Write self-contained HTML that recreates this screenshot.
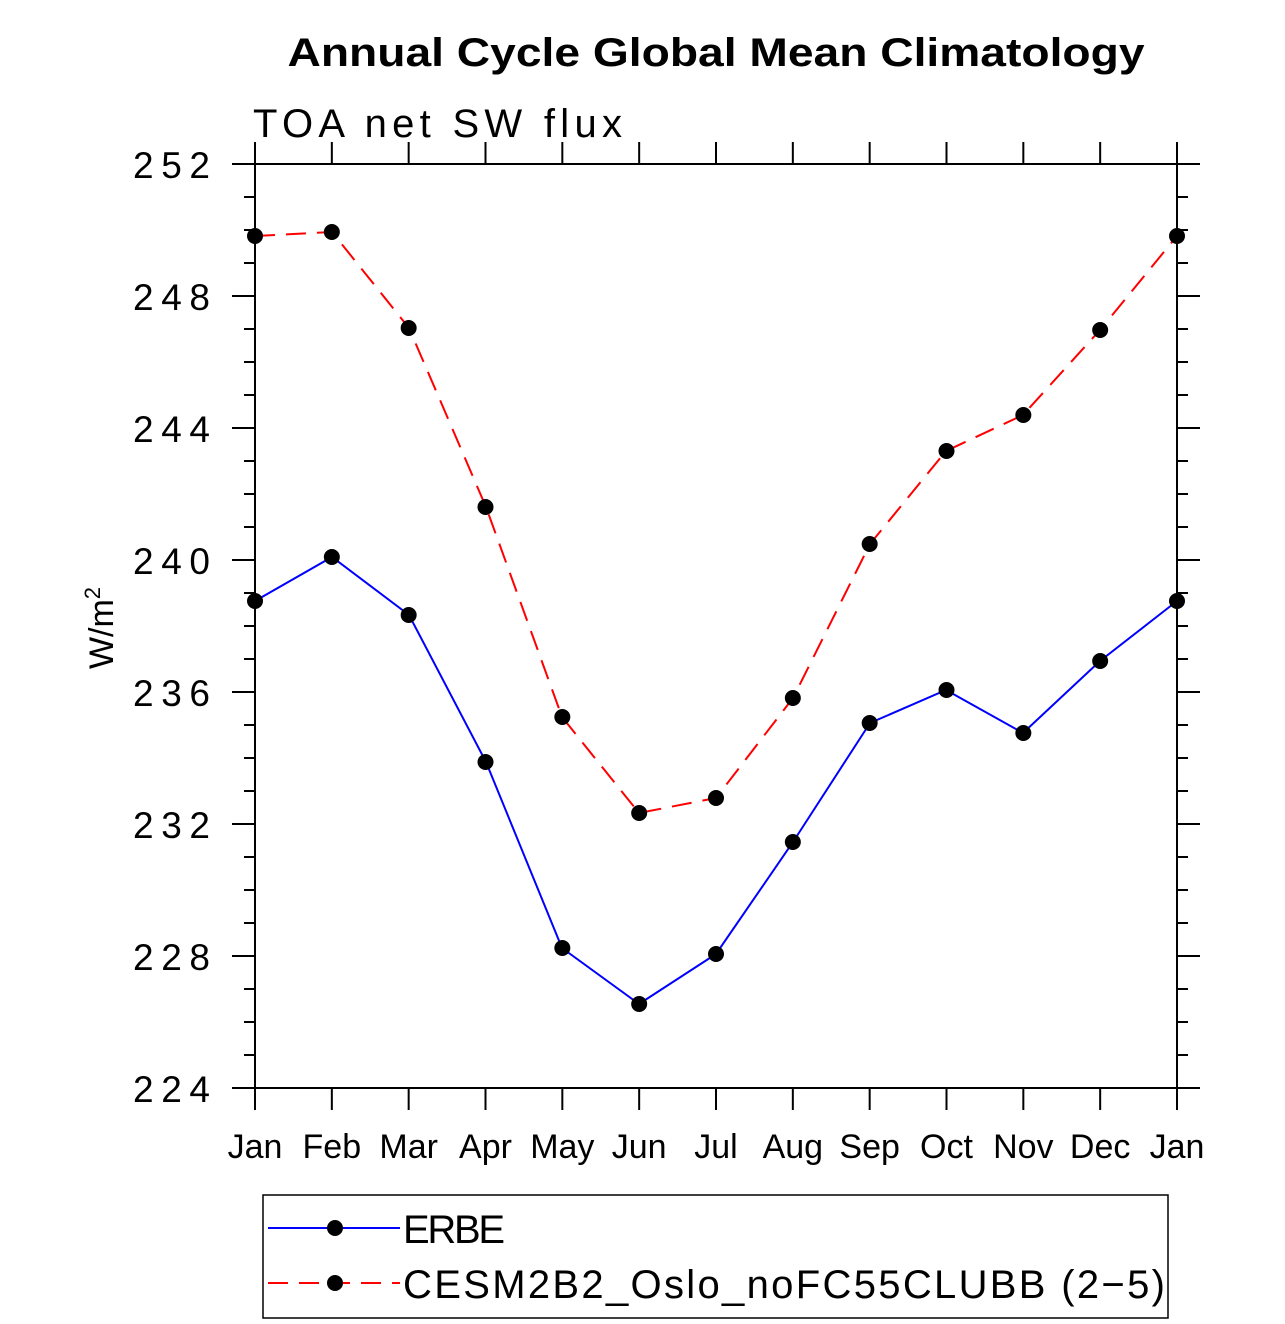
<!DOCTYPE html>
<html><head><style>body{margin:0;background:#fff}svg{display:block}text{font-family:"Liberation Sans",sans-serif;fill:#000}</style></head>
<body>
<svg width="1285" height="1324" viewBox="0 0 1285 1324" xmlns="http://www.w3.org/2000/svg">
<text x="716" y="66" text-anchor="middle" font-size="40" font-weight="bold" textLength="857" lengthAdjust="spacingAndGlyphs">Annual Cycle Global Mean Climatology</text>
<text x="253" y="137" font-size="40" font-weight="300" textLength="369" lengthAdjust="spacing">TOA net SW flux</text>
<g stroke="#000" stroke-width="2" fill="none">
<line x1="232" y1="164" x2="1200" y2="164"/>
<line x1="232" y1="1088" x2="1200" y2="1088"/>
<line x1="255" y1="142" x2="255" y2="1110"/>
<line x1="1177" y1="142" x2="1177" y2="1110"/>
</g>
<g stroke="#000" stroke-width="2" id="ticks"></g>
<g font-size="37" id="ylab"></g>
<g font-size="34" text-anchor="middle" id="xlab"></g>
<text transform="translate(113,628) rotate(-90)" font-size="34" text-anchor="middle">W/m<tspan font-size="22" dy="-13">2</tspan></text>
<polyline fill="none" stroke="#00f" stroke-width="2" points="255,601 332,557 409,615 486,762 562,948 639,1004 716,954 793,842 870,723 946,690 1023,733 1100,661 1177,601"/>
<polyline fill="none" stroke="#f00" stroke-width="2" stroke-dasharray="20,11" points="255,236 332,232 409,328 486,507 562,717 639,813 716,798 793,698 870,544 946,451 1023,415 1100,330 1177,236"/>
<g id="dots" fill="#000"></g>
<rect x="263" y="1195" width="905" height="123" fill="none" stroke="#000" stroke-width="1.5"/>
<line x1="268" y1="1228" x2="400" y2="1228" stroke="#00f" stroke-width="2"/>
<circle cx="335" cy="1228" r="8"/>
<line x1="268" y1="1283" x2="400" y2="1283" stroke="#f00" stroke-width="2" stroke-dasharray="20,11"/>
<circle cx="335" cy="1283" r="8"/>
<text x="403" y="1243" font-size="40" textLength="102" lengthAdjust="spacing">ERBE</text>
<text x="403" y="1298" font-size="40" textLength="762" lengthAdjust="spacing">CESM2B2_Oslo_noFC55CLUBB (2−5)</text>
</svg>
<script>
var ns="http://www.w3.org/2000/svg";
function el(p,n,a,t){var e=document.createElementNS(ns,n);for(var k in a)e.setAttribute(k,a[k]);if(t)e.textContent=t;document.getElementById(p).appendChild(e);}
for(var v=224;v<=252;v++){var y=164+(252-v)*33;var maj=(v%4==0);
el("ticks","line",{x1:maj?232:244,y1:y,x2:255,y2:y});
el("ticks","line",{x1:1177,y1:y,x2:maj?1200:1188,y2:y});
if(maj)el("ylab","text",{x:133,y:y+14,textLength:77,lengthAdjust:"spacing"},String(v));}
var m=["Jan","Feb","Mar","Apr","May","Jun","Jul","Aug","Sep","Oct","Nov","Dec","Jan"];
var r=[236,232,328,507,717,813,798,698,544,451,415,330,236],b=[601,557,615,762,948,1004,954,842,723,690,733,661,601];
for(var i=0;i<13;i++){var x=255+i*922/12;
el("ticks","line",{x1:x,y1:142,x2:x,y2:164});el("ticks","line",{x1:x,y1:1088,x2:x,y2:1110});
el("xlab","text",{x:x,y:1158},m[i]);
el("dots","circle",{cx:x,cy:r[i],r:8});el("dots","circle",{cx:x,cy:b[i],r:8});}
</script>
</body></html>
